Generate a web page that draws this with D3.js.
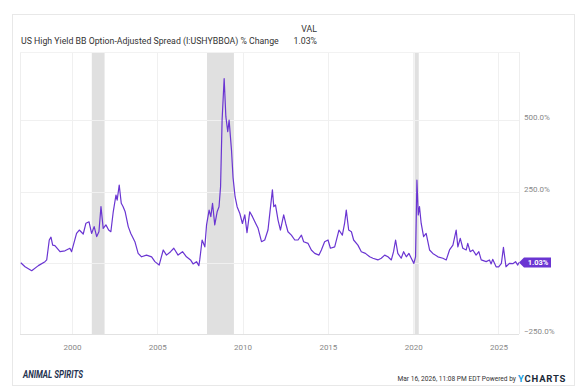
<!DOCTYPE html>
<html><head><meta charset="utf-8">
<script src="https://cdn.jsdelivr.net/npm/d3@7"></script>
<style>body{margin:0;background:#fff}svg{display:block}text{font-family:Roboto,"Liberation Sans",sans-serif}</style>
</head><body>
<svg id="c" width="585" height="392"></svg>
<script>
const title = "US High Yield BB Option-Adjusted Spread (I:USHYBBOA) % Change";
const lastValueLabel = "1.03%";
const xTickYears = [2000, 2005, 2010, 2015, 2020, 2025];
const yTickValues = [-250, 0, 250, 500];
const yLabelValues = [-250, 250, 500];
const recessions = [["2001-03-01","2001-11-30"],["2007-12-01","2009-06-30"],["2020-02-01","2020-04-30"]];
// decimal-year dates and % change values
const dates = [1997.00,1997.25,1997.64,1998.03,1998.42,1998.52,1998.67,1998.77,1998.87,1999.00,1999.30,1999.59,1999.88,1999.98,
2000.27,2000.43,2000.66,2000.82,2001.00,2001.15,2001.30,2001.45,2001.58,2001.70,2001.83,2001.99,2002.15,2002.28,2002.42,
2002.58,2002.65,2002.77,2002.89,2003.00,2003.12,2003.30,2003.45,2003.69,2003.88,2004.08,2004.37,2004.67,2004.86,2005.11,
2005.35,2005.54,2005.78,2005.97,2006.22,2006.48,2006.71,2006.95,2007.10,2007.30,2007.44,2007.49,2007.63,2007.79,2007.89,
2008.04,2008.14,2008.24,2008.37,2008.51,2008.62,2008.71,2008.80,2008.92,2009.02,2009.13,2009.21,2009.35,2009.44,2009.56,
2009.68,2009.84,2009.99,2010.13,2010.26,2010.42,2010.58,2010.77,2010.91,2011.11,2011.30,2011.49,2011.63,2011.75,2011.83,
2011.93,2012.08,2012.22,2012.41,2012.53,2012.66,2012.86,2013.06,2013.25,2013.45,2013.58,2013.84,2014.03,2014.23,2014.48,
2014.62,2014.81,2015.01,2015.15,2015.40,2015.65,2015.85,2015.98,2016.08,2016.22,2016.38,2016.51,2016.76,2016.96,2017.20,
2017.45,2017.64,2017.93,2018.13,2018.33,2018.52,2018.72,2018.85,2018.97,2019.10,2019.30,2019.44,2019.60,2019.75,2019.89,
2020.04,2020.14,2020.22,2020.30,2020.37,2020.47,2020.61,2020.76,2020.86,2020.96,2021.15,2021.45,2021.74,2021.94,2022.13,
2022.33,2022.52,2022.62,2022.76,2022.91,2023.11,2023.20,2023.34,2023.50,2023.69,2023.85,2023.99,2024.28,2024.47,2024.57,
2024.66,2024.86,2025.01,2025.17,2025.29,2025.44,2025.64,2025.84,2026.00,2026.13,2026.20];
const values = [0,-14,-28,-10,4,10,80,90,62,60,39,42,51,39,
103,115,101,139,144,103,127,92,109,197,121,133,115,109,179,
238,220,273,209,197,179,127,103,74,33,21,27,21,4,-8,
45,27,39,51,27,39,21,10,-4,4,-10,10,80,56,133,
185,162,209,133,179,197,267,501,647,513,460,501,396,300,232,
197,173,138,168,106,179,162,138,121,74,80,115,191,256,197,
203,150,115,168,138,109,97,80,80,97,74,68,45,33,27,
45,74,80,51,56,115,97,138,185,115,109,80,62,39,33,
21,16,10,16,27,21,10,39,80,33,16,39,21,33,16,
-2,21,290,168,197,138,92,103,74,45,33,21,16,10,45,
62,115,56,86,51,45,68,39,45,27,39,10,4,10,-4,
12,-14,-14,-2,54,-14,-2,-3,4,-8,1.03];

function decToDate(d){const y=Math.floor(d);const s=new Date(y,0,1),e=new Date(y+1,0,1);return new Date(+s+(d-y)*(e-s));}
const data = dates.map((d,i)=>({date:decToDate(d),value:values[i]}));

const svg = d3.select("#c");
const L=20,R=519,T=52,B=334;
const x = d3.scaleTime().domain([new Date(1996,11,15), new Date(2026,2,16)]).range([L,R]);
const y = d3.scaleLinear().domain([-250,740]).range([B,T]);

// card
svg.append("rect").attr("x",12.5).attr("y",14.5).attr("width",562).attr("height",371).attr("fill","#fff").attr("stroke","#e8e8e8");

// recession bands
svg.selectAll(".rec").data(recessions).join("rect")
 .attr("x",d=>x(new Date(d[0]))).attr("width",d=>Math.max(2,x(new Date(d[1]))-x(new Date(d[0]))))
 .attr("y",T).attr("height",B-T).attr("fill","#e0e0e0");

// grid
svg.append("g").selectAll("line").data(yTickValues.filter(v=>v>-250)).join("line")
 .attr("x1",L).attr("x2",R).attr("y1",d=>Math.round(y(d))+0.5).attr("y2",d=>Math.round(y(d))+0.5).attr("stroke","#f0f0f0");
svg.append("g").selectAll("line").data(xTickYears).join("line")
 .attr("x1",d=>Math.round(x(new Date(d,0,1)))+0.5).attr("x2",d=>Math.round(x(new Date(d,0,1)))+0.5)
 .attr("y1",T).attr("y2",B).attr("stroke","#f0f0f0");
svg.append("line").attr("x1",L+0.5).attr("x2",L+0.5).attr("y1",T).attr("y2",B).attr("stroke","#eeeeee");
svg.append("line").attr("x1",R+0.5).attr("x2",R+0.5).attr("y1",T).attr("y2",B).attr("stroke","#eeeeee");
svg.append("line").attr("x1",L).attr("x2",R).attr("y1",T+0.5).attr("y2",T+0.5).attr("stroke","#f2f2f2");
svg.append("line").attr("x1",L).attr("x2",R).attr("y1",B+0.5).attr("y2",B+0.5).attr("stroke","#e2e2e2");

// x axis
const xa = svg.append("g").attr("transform",`translate(0,${B})`)
 .call(d3.axisBottom(x).tickValues(xTickYears.map(yr=>new Date(yr,0,1))).tickFormat(d3.timeFormat("%Y")).tickSize(0).tickPadding(10));
xa.select(".domain").remove();
xa.selectAll("text").attr("fill","#888").attr("font-size","8px").attr("font-family","Roboto");

// y axis
const ya = svg.append("g").attr("transform",`translate(${R},0)`)
 .call(d3.axisRight(y).tickValues(yLabelValues).tickFormat(d=>d3.format(".1f")(d)+"%").tickSize(0).tickPadding(5));
ya.select(".domain").remove();
ya.selectAll("text").attr("fill","#888").attr("font-size","8px").attr("font-family","Roboto").attr("dy","-0.05em");

// line
svg.append("path").datum(data).attr("fill","none").attr("stroke","#6a35d2").attr("stroke-width",1.2).attr("stroke-linejoin","round")
 .attr("d",d3.line().x(d=>x(d.date)).y(d=>y(d.value)));

// last value tag
const ly = y(values[values.length-1]);
svg.append("path").attr("d",`M${R},${ly} L${R+5},${ly-5} L${R+32},${ly-5} L${R+32},${ly+5} L${R+5},${ly+5} Z`).attr("fill","#6a35d2");
svg.append("text").attr("x",R+19).attr("y",ly+2.8).attr("text-anchor","middle").attr("fill","#fff").attr("font-size","7.5px").attr("font-weight","bold").text(lastValueLabel);

// title
svg.append("text").attr("x",21).attr("y",43.5).attr("font-size","8.75px").attr("fill","#333").text(title);
svg.append("text").attr("x",317).attr("y",32).attr("text-anchor","end").attr("font-size","8.75px").attr("fill","#333").text("VAL");
svg.append("text").attr("x",317).attr("y",43.5).attr("text-anchor","end").attr("font-size","8.75px").attr("fill","#333").text(lastValueLabel);

// footer
svg.append("text").attr("x",23).attr("y",377.5).attr("font-family","'DejaVu Sans Condensed',sans-serif").attr("font-style","italic").attr("font-weight","bold")
 .attr("font-size","10px").attr("fill","#1f3350").attr("textLength",60).attr("lengthAdjust","spacingAndGlyphs").text("ANIMAL SPIRITS");
svg.append("text").attr("x",516).attr("y",381).attr("text-anchor","end").attr("font-size","6.6px").attr("fill","#333").text("Mar 16, 2026, 11:08 PM EDT Powered by");
const yc = svg.append("text").attr("x",518).attr("y",381.5).attr("font-size","9.5px").attr("font-weight","bold").attr("letter-spacing","0.8px");
yc.append("tspan").attr("fill","#1ba0e2").text("Y");
yc.append("tspan").attr("fill","#1c2b3a").text("CHARTS");
</script>
</body></html>
